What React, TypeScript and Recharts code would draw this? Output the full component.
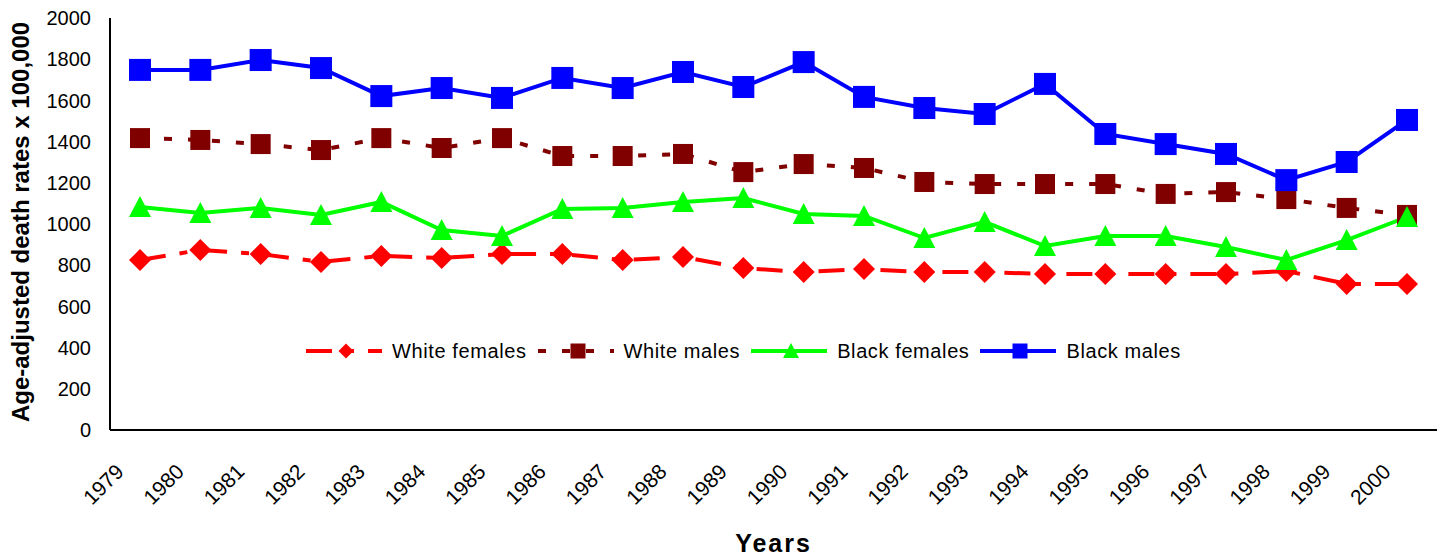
import { Legend, Line, LineChart, XAxis, YAxis } from 'recharts'

const years = [
  '1979', '1980', '1981', '1982', '1983', '1984', '1985', '1986', '1987', '1988', '1989',
  '1990', '1991', '1992', '1993', '1994', '1995', '1996', '1997', '1998', '1999', '2000',
]
const whiteFemales = [825, 874, 854, 816, 845, 835, 854, 854, 825, 840, 786, 767, 781, 767, 767, 757, 757, 757, 757, 772, 709, 709]
const whiteMales = [1417, 1408, 1388, 1359, 1417, 1369, 1417, 1330, 1330, 1340, 1252, 1291, 1272, 1204, 1194, 1194, 1194, 1146, 1155, 1121, 1078, 1044]
const blackFemales = [1083, 1053, 1078, 1044, 1107, 971, 942, 1073, 1078, 1107, 1126, 1049, 1039, 932, 1010, 893, 942, 942, 888, 825, 922, 1034]
const blackMales = [1748, 1748, 1796, 1757, 1621, 1660, 1612, 1709, 1660, 1738, 1665, 1786, 1617, 1563, 1534, 1680, 1437, 1388, 1340, 1213, 1301, 1505]
const yTicks = [0, 200, 400, 600, 800, 1000, 1200, 1400, 1600, 1800, 2000]

const data = years.map((year, i) => ({
  year,
  wf: whiteFemales[i],
  wm: whiteMales[i],
  bf: blackFemales[i],
  bm: blackMales[i],
}))

const FONT = '"Liberation Sans", Arial, sans-serif'

type Marker = 'diamond' | 'square' | 'triangle'

const series: { key: string; name: string; color: string; dash?: string; marker: Marker; size: number }[] = [
  { key: 'wf', name: 'White females', color: '#FF0000', dash: '26 14 8 14', marker: 'diamond', size: 22 },
  { key: 'wm', name: 'White males', color: '#800000', dash: '8 16', marker: 'square', size: 20 },
  { key: 'bf', name: 'Black females', color: '#00FF00', marker: 'triangle', size: 22 },
  { key: 'bm', name: 'Black males', color: '#0000FF', marker: 'square', size: 22 },
]

function MarkerShape(props: { cx: number; cy: number; kind: Marker; size: number; color: string }) {
  const { cx, cy, kind, size, color } = props
  const h = size / 2
  if (kind === 'diamond') {
    return <polygon points={`${cx},${cy - h} ${cx + h},${cy} ${cx},${cy + h} ${cx - h},${cy}`} fill={color} />
  }
  if (kind === 'triangle') {
    return <polygon points={`${cx},${cy - h} ${cx + h},${cy + h - 1} ${cx - h},${cy + h - 1}`} fill={color} />
  }
  return <rect x={cx - h} y={cy - h} width={size} height={size} fill={color} />
}

function LegendBox() {
  return (
    <div style={{ display: 'flex', alignItems: 'center', fontFamily: FONT, fontSize: 20, color: '#000', whiteSpace: 'nowrap' }}>
      {series.map((s) => (
        <div key={s.key} style={{ display: 'flex', alignItems: 'center', marginRight: 11 }}>
          <svg width={76} height={24} style={{ display: 'block' }}>
            <line x1={0} y1={12} x2={76} y2={12} stroke={s.color} strokeWidth={4} strokeDasharray={s.dash} />
            <MarkerShape cx={40} cy={12} kind={s.marker} size={s.marker === 'triangle' ? 16 : 15} color={s.color} />
          </svg>
          <span style={{ marginLeft: 10, letterSpacing: 0.6 }}>{s.name}</span>
        </div>
      ))}
    </div>
  )
}

export default function App() {
  return (
    <div style={{ position: 'absolute', left: 0, top: 0, background: '#fff' }}>
      <LineChart width={1447} height={557} data={data} margin={{ top: 18, right: 10, left: 10, bottom: 0 }}>
        <XAxis
          dataKey="year"
          height={127}
          padding={{ left: 30, right: 30 }}
          axisLine={{ stroke: '#000', strokeWidth: 2 }}
          tickLine={false}
          tickSize={0}
          interval={0}
          tick={(p: any) => {
            const tx = p.x - 15
            const ty = p.y + 41
            return (
              <text
                x={tx}
                y={ty}
                textAnchor="end"
                transform={`rotate(-45, ${tx}, ${ty})`}
                fontFamily={FONT}
                fontSize={21}
                fill="#000"
              >
                {p.payload.value}
              </text>
            )
          }}
          label={{
            content: (p: any) => {
              const vb = p.viewBox
              return (
                <text x={vb.x + vb.width / 2} y={552} textAnchor="middle" fontFamily={FONT} fontWeight="bold" fontSize={25} letterSpacing={2} fill="#000">
                  Years
                </text>
              )
            },
          }}
        />
        <XAxis xAxisId="top" dataKey="year" orientation="top" height={0} tick={false} tickLine={false} axisLine={{ stroke: '#333', strokeWidth: 1.5 }} />
        <YAxis
          width={100}
          domain={[0, 2000]}
          ticks={yTicks}
          interval={0}
          axisLine={{ stroke: '#000', strokeWidth: 2 }}
          tickLine={false}
          tickSize={0}
          tickMargin={19}
          tick={{ fontFamily: FONT, fontSize: 20, fill: '#000' }}
          label={{
            content: () => {
              const lx = 29
              const ly = 222
              return (
                <text
                  x={lx}
                  y={ly}
                  textAnchor="middle"
                  transform={`rotate(-90, ${lx}, ${ly})`}
                  fontFamily={FONT}
                  fontWeight="bold"
                  fontSize={24}
                  fill="#000"
                >
                  Age-adjusted death rates x 100,000
                </text>
              )
            },
          }}
        />
        <YAxis yAxisId="right" orientation="right" width={0} domain={[0, 2000]} tick={false} tickLine={false} axisLine={{ stroke: '#222', strokeWidth: 2 }} />
        <Legend
          layout="horizontal"
          verticalAlign="middle"
          align="center"
          content={() => <LegendBox />}
          wrapperStyle={{ left: 306, top: 339, width: 'auto', height: 24 }}
        />
        {series.map((s) => (
          <Line
            key={s.key}
            type="linear"
            dataKey={s.key}
            name={s.name}
            stroke={s.color}
            strokeWidth={4}
            strokeDasharray={s.dash}
            isAnimationActive={false}
            activeDot={false}
            dot={(p: any) => (
              <MarkerShape key={`${s.key}-${p.index}`} cx={p.cx} cy={p.cy} kind={s.marker} size={s.size} color={s.color} />
            )}
          />
        ))}
      </LineChart>
    </div>
  )
}
